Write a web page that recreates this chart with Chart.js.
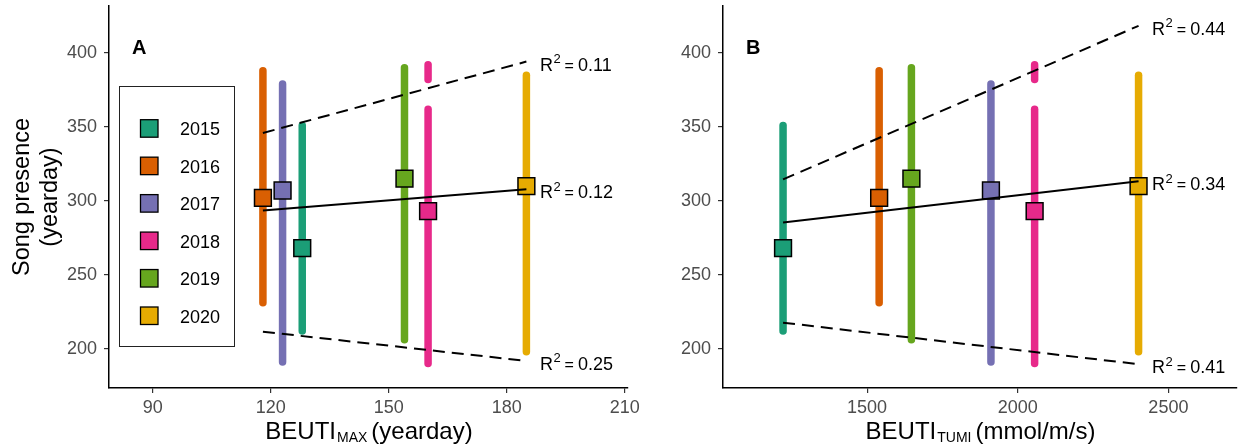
<!DOCTYPE html>
<html>
<head>
<meta charset="utf-8">
<script src="https://cdn.jsdelivr.net/npm/chart.js@4.4.1/dist/chart.umd.min.js"></script>
<style>
  body { margin: 0; background: #fff; }
  #wrap { position: relative; width: 1238px; height: 448px; }
  canvas { position: absolute; top: 0; }
  #chartA { left: 0; }
  #chartB { left: 640px; }
</style>
</head>
<body>
<div id="wrap">
  <canvas id="chartA" width="660" height="448"></canvas>
  <canvas id="chartB" width="598" height="448"></canvas>
</div>
<script>
const FAMILY = '"Liberation Sans", Arial, Helvetica, sans-serif';

const years = ['2015', '2016', '2017', '2018', '2019', '2020'];
const yearColors = ['#1B9E77', '#D95F02', '#7570B3', '#E7298A', '#66A61E', '#E6AB02'];

// BEUTI timing (yearday) and total upwelling (mmol/m/s) for each year
const beutiMax = [128, 118, 123, 160, 154, 185];
const beutiTumi = [1221, 1540, 1911, 2056, 1647, 2401];

// song presence (yearday): mean, first and last day
const songMean = [268, 302, 307, 293, 315, 310];
const songStart = [212, 231, 191, 190, 206, 198];
const songEnd = [351, 388, 379, 362, 390, 385];
// 2018 has a second short stretch late in the season
const lateStart = [null, null, null, 382, null, null];
const lateEnd = [null, null, null, 392, null, null];

// fitted lines (ends only): mean, last day, first day
const fitMaxX = [118, 185];
const fitMaxMean = [293.5, 307.9];
const fitMaxEnd = [345.9, 394.2];
const fitMaxStart = [211.5, 191.7];
const r2Max = ['0.12', '0.11', '0.25'];

const fitTumiX = [1221, 2401];
const fitTumiMean = [285.4, 313.3];
const fitTumiEnd = [314.5, 418.4];
const fitTumiStart = [217.6, 189.5];
const r2Tumi = ['0.34', '0.44', '0.41'];

const yTicks = [200, 250, 300, 350, 400];
const maxTicks = [90, 120, 150, 180, 210];
const tumiTicks = [1500, 2000, 2500];

function buildDatasets(xs, fitX, fitMean, fitEnd, fitStart) {
    const sets = [];
    const fitLine = (ys, dash) => ({
        data: fitX.map((x, i) => ({ x: x, y: ys[i] })),
        showLine: true, borderColor: '#000', borderWidth: 2, borderDash: dash,
        pointRadius: 0, order: 0
    });
    sets.push(fitLine(fitMean, []));
    sets.push(fitLine(fitEnd, [12, 7]));
    sets.push(fitLine(fitStart, [12, 7]));

    sets.push({
        data: xs.map((x, i) => ({ x: x, y: songMean[i] })),
        pointStyle: 'rect', pointRadius: 11.9,
        backgroundColor: yearColors, borderColor: '#000', borderWidth: 1.5,
        order: 1
    });

    const bar = (x, lo, hi, col) => ({
        data: [{ x: x, y: lo }, { x: x, y: hi }],
        showLine: true, borderColor: col, borderWidth: 7.5, borderCapStyle: 'round',
        pointRadius: 0, order: 2
    });
    years.forEach((yr, i) => {
        sets.push(bar(xs[i], songStart[i], songEnd[i], yearColors[i]));
        if (lateStart[i] !== null) {
            sets.push(bar(xs[i], lateStart[i], lateEnd[i], yearColors[i]));
        }
    });
    return sets;
}

function drawR2(ctx, x, y, val) {
    ctx.save();
    ctx.fillStyle = '#000';
    ctx.textAlign = 'left';
    ctx.textBaseline = 'alphabetic';
    ctx.font = '18px ' + FAMILY;
    ctx.fillText('R', x, y);
    let cx = x + ctx.measureText('R').width + 0.5;
    ctx.font = '13px ' + FAMILY;
    ctx.fillText('2', cx, y - 7.5);
    cx += ctx.measureText('2').width + 4;
    ctx.font = '16px ' + FAMILY;
    ctx.fillText('=', cx, y);
    cx += ctx.measureText('=').width + 4;
    ctx.font = '18px ' + FAMILY;
    ctx.fillText(val, cx, y);
    ctx.restore();
}

function drawXTitle(ctx, cx, main, sub, rest) {
    ctx.save();
    ctx.fillStyle = '#000';
    ctx.textAlign = 'left';
    ctx.textBaseline = 'alphabetic';
    ctx.font = '24px ' + FAMILY;
    const w1 = ctx.measureText(main).width;
    const w3 = ctx.measureText(rest).width;
    ctx.font = '14px ' + FAMILY;
    const w2 = ctx.measureText(sub).width;
    const gap = 4;
    let x = cx - (w1 + w2 + gap + w3) / 2;
    const base = 438.5;
    ctx.font = '24px ' + FAMILY;
    ctx.fillText(main, x, base);
    x += w1 + 1;
    ctx.font = '14px ' + FAMILY;
    ctx.fillText(sub, x, base + 3);
    x += w2 + gap;
    ctx.font = '24px ' + FAMILY;
    ctx.fillText(rest, x, base);
    ctx.restore();
}

function drawLegend(ctx) {
    ctx.save();
    ctx.strokeStyle = '#222';
    ctx.lineWidth = 1;
    ctx.strokeRect(119.5, 86.5, 115, 260);
    ctx.font = '18px ' + FAMILY;
    ctx.textAlign = 'left';
    ctx.textBaseline = 'alphabetic';
    years.forEach((yr, i) => {
        const cy = 128.7 + i * 37.46;
        ctx.fillStyle = yearColors[i];
        ctx.fillRect(140.5, cy - 9, 17.5, 17.5);
        ctx.strokeStyle = '#000';
        ctx.lineWidth = 1.3;
        ctx.strokeRect(140.5, cy - 9, 17.5, 17.5);
        ctx.fillStyle = '#000';
        ctx.fillText(yr, 180, cy + 6.5);
    });
    ctx.restore();
}

function overlay(cfg) {
    return {
        id: 'overlay' + cfg.letter,
        afterDraw(chart) {
            const ctx = chart.ctx;
            const area = chart.chartArea;
            const xs = chart.scales.x;
            const ys = chart.scales.y;

            ctx.save();
            ctx.fillStyle = '#000';
            ctx.font = 'bold 20px ' + FAMILY;
            ctx.textAlign = 'left';
            ctx.textBaseline = 'alphabetic';
            ctx.fillText(cfg.letter, area.left + 23, 53.5);
            ctx.restore();

            const lx = xs.getPixelForValue(cfg.fitX[1]) + 13.5;
            [cfg.fitMean, cfg.fitEnd, cfg.fitStart].forEach((arr, i) => {
                drawR2(ctx, lx, ys.getPixelForValue(arr[1]) + 9, cfg.r2[i]);
            });

            drawXTitle(ctx, (area.left + area.right) / 2, 'BEUTI', cfg.sub, cfg.unit);

            if (cfg.legend) drawLegend(ctx);
        }
    };
}

function axisStyle() {
    return {
        grid: { display: true, drawOnChartArea: false, drawTicks: true, tickLength: 5, color: '#333', lineWidth: 1.2 },
        border: { display: true, color: '#000', width: 1.5 }
    };
}

function makeChart(id, cfg) {
    const yAxis = Object.assign(axisStyle(), {
        type: 'linear', min: 173.4, max: 431.8,
        afterBuildTicks: s => { s.ticks = yTicks.map(v => ({ value: v })); },
        afterFit: s => { s.width = cfg.yWidth; s.paddingTop = 0; s.paddingBottom = 0; },
        ticks: { color: '#4D4D4D', font: { family: FAMILY, size: 18 }, padding: 7, callback: v => String(v) },
        title: {
            display: cfg.yTitle, text: ['Song presence', '(yearday)'], color: '#000',
            font: { family: FAMILY, size: 23.5, lineHeight: 1.2 }, padding: { top: 8, bottom: 0 }
        }
    });
    const xAxis = Object.assign(axisStyle(), {
        type: 'linear', min: cfg.xMin, max: cfg.xMax,
        afterBuildTicks: s => { s.ticks = cfg.ticks.map(v => ({ value: v })); },
        afterFit: s => { s.height = 60; s.paddingLeft = 0; s.paddingRight = 0; },
        ticks: { color: '#4D4D4D', font: { family: FAMILY, size: 18 }, padding: 4, maxRotation: 0, callback: v => String(v) }
    });

    return new Chart(document.getElementById(id), {
        type: 'scatter',
        data: { datasets: buildDatasets(cfg.xs, cfg.fitX, cfg.fitMean, cfg.fitEnd, cfg.fitStart) },
        options: {
            responsive: false,
            animation: false,
            devicePixelRatio: 1,
            events: [],
            layout: { autoPadding: false, padding: { left: 0, top: 6, right: cfg.padRight, bottom: 0 } },
            plugins: { legend: { display: false }, tooltip: { enabled: false } },
            scales: { x: xAxis, y: yAxis }
        },
        plugins: [overlay(cfg)]
    });
}

makeChart('chartA', {
    letter: 'A', xs: beutiMax, fitX: fitMaxX, fitMean: fitMaxMean, fitEnd: fitMaxEnd,
    fitStart: fitMaxStart, r2: r2Max, ticks: maxTicks, xMin: 78.86, xMax: 210.84,
    yWidth: 109, yTitle: true, padRight: 32, legend: true, sub: 'MAX', unit: '(yearday)'
});

makeChart('chartB', {
    letter: 'B', xs: beutiTumi, fitX: fitTumiX, fitMean: fitTumiMean, fitEnd: fitTumiEnd,
    fitStart: fitTumiStart, r2: r2Tumi, ticks: tumiTicks, xMin: 1021.7, xMax: 2727.7,
    yWidth: 83, yTitle: false, padRight: 1, legend: false, sub: 'TUMI', unit: '(mmol/m/s)'
});
</script>
</body>
</html>
